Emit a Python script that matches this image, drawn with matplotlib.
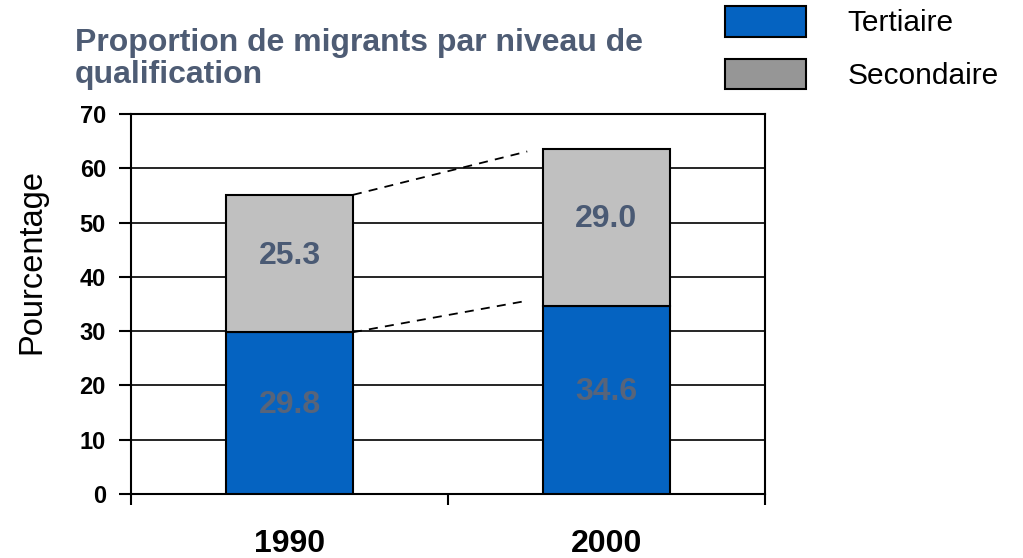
import matplotlib
matplotlib.use("Agg")
import matplotlib.pyplot as plt
from matplotlib.patches import Patch

plt.rcParams['font.family'] = ['Liberation Sans', 'DejaVu Sans']

years = ["1990", "2000"]
tertiaire = [29.8, 34.6]
secondaire = [25.3, 29.0]
series_names = ["Tertiaire", "Secondaire"]
title = "Proportion de migrants par niveau de\nqualification"
ylabel = "Pourcentage"
yticks = [0, 10, 20, 30, 40, 50, 60, 70]

blue = "#0563C1"
grey = "#C0C0C0"
grey_legend = "#969696"

fig = plt.figure(figsize=(10.23, 5.58), dpi=100)
ax = fig.add_axes([131/1023, 1-494/558, (765-131)/1023, (494-114)/558])

x = list(range(len(years)))
width = 0.4
ax.bar(x, tertiaire, width, color=blue, edgecolor="black", linewidth=1.5, zorder=3)
tops = [t + s for t, s in zip(tertiaire, secondaire)]
ax.bar(x, secondaire, width, bottom=tertiaire, color=grey, edgecolor="black", linewidth=1.5, zorder=3)

# value labels
for i in x:
    ax.text(i, tertiaire[i] / 2, f"{tertiaire[i]:.1f}", ha="center", va="baseline",
            fontsize=23, fontweight="bold", color="#57647A", zorder=5)
    ax.text(i, tertiaire[i] + secondaire[i] / 2, f"{secondaire[i]:.1f}", ha="center",
            va="baseline", fontsize=23, fontweight="bold", color="#4A5A74", zorder=5)

# dashed connector lines
x0 = x[0] + width / 2
x1 = x[1] - width / 2 - 0.05
for y0, y1 in [(tops[0], tops[1] - 0.5), (tertiaire[0], tertiaire[1] + 1.0)]:
    ax.plot([x0, x1], [y0, y1], color="black", linestyle=(0, (5, 4)), linewidth=1.3, zorder=4)

ax.set_xlim(-0.5, 1.5)
ax.set_ylim(0, 70)
ax.set_yticks(yticks)
ax.set_yticklabels([str(v) for v in yticks], fontsize=17, fontweight="bold")
ax.yaxis.grid(True, color="black", linewidth=1.2, zorder=0)
ax.set_axisbelow(True)

ax.set_xticks([-0.5, 0.5, 1.5])
ax.set_xticklabels([])
ax.tick_params(axis="x", length=8, width=1.5, direction="out")
ax.tick_params(axis="y", length=9, width=1.5, direction="out", pad=9)
for i, yr in enumerate(years):
    ax.text(i, -6.5, yr, ha="center", va="top", fontsize=23, fontweight="bold",
            transform=ax.transData)

for s in ax.spines.values():
    s.set_linewidth(1.5)

ax.set_ylabel(ylabel, fontsize=23.5)
ax.yaxis.set_label_coords(-0.132, 0.613)

fig.text(75/1023, 1 - 28/558, title, ha="left", va="top", fontsize=23,
         fontweight="bold", color="#4E5C74", linespacing=1.08)

handles = [Patch(facecolor=blue, edgecolor="black", linewidth=1.5),
           Patch(facecolor=grey_legend, edgecolor="black", linewidth=1.5)]
fig.legend(handles, series_names, loc="upper left", bbox_to_anchor=(725/1023, 1 - 6/558),
           frameon=False, fontsize=21.5, handlelength=2.7, handleheight=1.2,
           labelspacing=0.72, handletextpad=1.4, borderpad=0, borderaxespad=0)

fig.savefig("out.png", dpi=100)
